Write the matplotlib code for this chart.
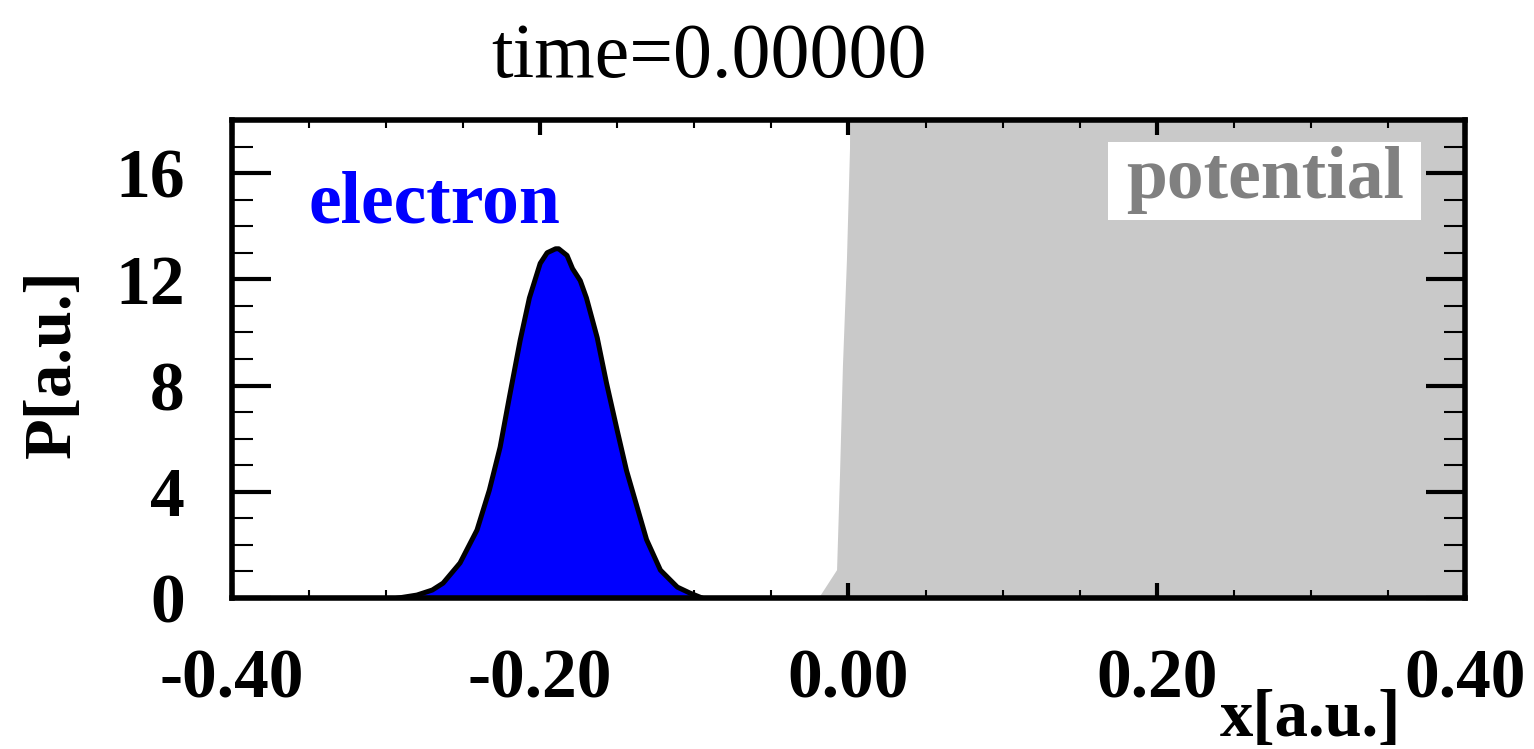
import matplotlib
matplotlib.use('Agg')
import matplotlib.pyplot as plt
from matplotlib.ticker import MultipleLocator, FixedLocator, FixedFormatter
from matplotlib.patches import Rectangle

plt.rcParams['font.family'] = ['Liberation Serif', 'DejaVu Serif']
plt.rcParams['axes.unicode_minus'] = False

# electron probability density
x_el = [-0.292, -0.280, -0.270, -0.263, -0.252, -0.241, -0.233, -0.226, -0.220,
        -0.213, -0.207, -0.200, -0.1955, -0.190, -0.188, -0.1826, -0.179, -0.174,
        -0.170, -0.163, -0.157, -0.150, -0.144, -0.137, -0.131, -0.122, -0.116,
        -0.111, -0.103, -0.095]
p_el = [0.0, 0.11, 0.30, 0.56, 1.32, 2.56, 4.06, 5.68, 7.56,
        9.70, 11.3, 12.6, 13.0, 13.15, 13.15, 12.9, 12.4, 11.95,
        11.3, 9.8, 8.1, 6.3, 4.8, 3.4, 2.2, 1.05, 0.70,
        0.41, 0.19, 0.0]

# step potential (rises far above the plotted range)
x_pot = [-0.40, -0.022, -0.018, -0.0074, -0.0055, -0.0036, -0.001, 0.001, 0.003, 0.40]
v_pot = [0.0, 0.0, 0.1, 1.05, 4.6, 8.7, 12.7, 16.9, 40.0, 40.0]

x_ticks = [-0.40, -0.20, 0.00, 0.20, 0.40]
x_tick_labels = ['-0.40', '-0.20', '0.00', '0.20', '0.40']
y_ticks = [0, 4, 8, 12, 16]
y_tick_labels = ['0', '4', '8', '12', '16']

fig = plt.figure(figsize=(15.34, 7.49), dpi=100)
ax = fig.add_axes([0.1512, 0.2016, 0.8038, 0.6382])

ax.fill_between(x_pot, 0, v_pot, color='#c9c9c9', linewidth=0, zorder=1)
ax.fill_between(x_el, 0, p_el, color='#0000ff', linewidth=0, zorder=2)
ax.plot(x_el, p_el, color='black', linewidth=3.6, solid_joinstyle='round', zorder=3)

ax.set_xlim(-0.40, 0.40)
ax.set_ylim(0, 18)

ax.xaxis.set_major_locator(FixedLocator(x_ticks))
ax.xaxis.set_major_formatter(FixedFormatter(x_tick_labels))
ax.xaxis.set_minor_locator(MultipleLocator(0.05))
ax.yaxis.set_major_locator(FixedLocator(y_ticks))
ax.yaxis.set_major_formatter(FixedFormatter(y_tick_labels))
ax.yaxis.set_minor_locator(MultipleLocator(1))

ax.tick_params(which='both', direction='in', top=True, right=True, color='black')
ax.tick_params(axis='x', which='major', length=11, width=3, pad=36, labelsize=50)
ax.tick_params(axis='x', which='minor', length=6, width=1.5)
ax.tick_params(axis='y', which='major', length=28, width=3, pad=34, labelsize=50)
ax.tick_params(axis='y', which='minor', length=15, width=1.5)
for lab in ax.get_xticklabels() + ax.get_yticklabels():
    lab.set_fontweight('bold')

for sp in ax.spines.values():
    sp.set_linewidth(4)
    sp.set_zorder(5)

ax.set_xlabel('x[a.u.]', fontsize=48, fontweight='bold', va='top')
ax.xaxis.set_label_coords(0.875, -0.19)
ax.set_ylabel('P[a.u.]', fontsize=48, fontweight='bold')
ax.yaxis.set_label_coords(-0.12, 0.49)

ax.text(0.0617, 0.785, 'electron', transform=ax.transAxes, fontsize=53,
        fontweight='bold', color='#0000ff', ha='left', va='baseline', zorder=6)

ax.add_patch(Rectangle((0.7105, 0.791), 0.2535, 0.163, transform=ax.transAxes,
                       facecolor='white', edgecolor='none', zorder=4))
ax.text(0.7255, 0.837, 'potential', transform=ax.transAxes, fontsize=53,
        fontweight='bold', color='#808080', ha='left', va='baseline', zorder=6)

fig.text(0.462, 0.897, 'time=0.00000', fontsize=56, ha='center', va='baseline')

fig.savefig('out.png', dpi=100)
